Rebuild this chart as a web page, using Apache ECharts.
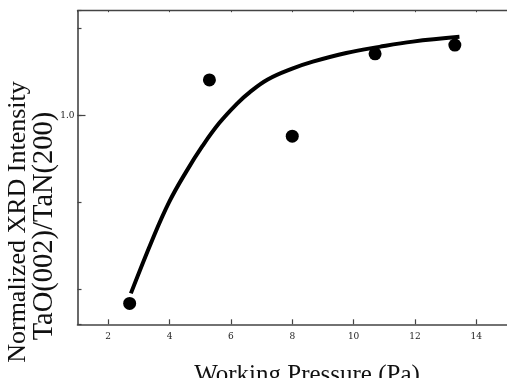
<!DOCTYPE html>
<html>
<head>
<meta charset="utf-8">
<script src="https://cdn.jsdelivr.net/npm/echarts@6/dist/echarts.min.js"></script>
<style>html,body{margin:0;padding:0;background:#fff;}#c{width:507px;height:378px;}</style>
</head>
<body>
<div id="c"></div>
<script>
// Measured points (Working pressure in Pa, normalized ratio)
const pressure = [2.7, 5.3, 8.0, 10.7, 13.3];
const ratio = [0.568, 1.081, 0.952, 1.141, 1.161];
// Fitted curve
const fitX = [2.74, 3.45, 3.99, 4.54, 5.08, 5.62, 6.22, 6.6, 7.2, 8.0, 8.67, 9.76, 10.84, 11.93, 13.45];
const fitY = [0.591, 0.716, 0.801, 0.870, 0.930, 0.982, 1.028, 1.052, 1.082, 1.107, 1.123, 1.143, 1.157, 1.169, 1.180];
const xTickLabels = ['2', '4', '6', '8', '10', '12', '14'];
const yLabelled = ['1.0'];

const axisColor = '#444';
const tickFont = { fontFamily: 'DejaVu Serif', fontSize: 9, color: '#222' };

const chart = echarts.init(document.getElementById('c'), null, { renderer: 'canvas' });
chart.setOption({
  animation: false,
  backgroundColor: '#fff',
  grid: { left: 77.5, right: 0, top: 10.7, bottom: 53.7, containLabel: false },
  xAxis: [{
    type: 'value', min: 1, max: 15, minInterval: 2, maxInterval: 2,
    axisLine: { show: true, lineStyle: { color: axisColor, width: 1.6 } },
    axisTick: { show: true, inside: true, length: 5, lineStyle: { color: axisColor, width: 1.2 } },
    axisLabel: Object.assign({ margin: 8, showMinLabel: false, showMaxLabel: false,
      formatter: v => xTickLabels.indexOf(String(v)) >= 0 ? String(v) : '' }, tickFont),
    splitLine: { show: false }
  }, {
    type: 'value', position: 'top', min: 1, max: 15, minInterval: 2, maxInterval: 2,
    axisLine: { show: true, lineStyle: { color: axisColor, width: 1.4 } },
    axisTick: { show: true, inside: true, length: 1.5, lineStyle: { color: axisColor, width: 1 } },
    axisLabel: { show: false }, splitLine: { show: false }
  }],
  yAxis: [{
    type: 'value', min: 0.52, max: 1.24, minInterval: 0.2, maxInterval: 0.2,
    axisLine: { show: true, lineStyle: { color: axisColor, width: 1.6 } },
    axisTick: { show: true, inside: true, length: 4, lineStyle: { color: axisColor, width: 1.2 } },
    axisLabel: { show: false }, splitLine: { show: false }
  }, {
    type: 'value', position: 'left', min: 0.52, max: 1.24, minInterval: 1, maxInterval: 1,
    axisLine: { show: false },
    axisTick: { show: true, inside: true, length: 8, lineStyle: { color: axisColor, width: 1.2 } },
    axisLabel: Object.assign({ margin: 3, showMinLabel: false, showMaxLabel: false,
      formatter: v => Math.abs(v - 1) < 1e-9 ? yLabelled[0] : '' }, tickFont),
    splitLine: { show: false }
  }],
  series: [{
    type: 'line', smooth: 0.4, showSymbol: false, symbol: 'none',
    data: fitX.map((x, i) => [x, fitY[i]]),
    lineStyle: { color: '#000', width: 4, cap: 'butt' }, z: 2
  }, {
    type: 'scatter', symbol: 'circle', symbolSize: 13,
    data: pressure.map((x, i) => [x, ratio[i]]),
    itemStyle: { color: '#000', opacity: 1 }, z: 3
  }],
  graphic: [{
    type: 'text', x: 307, y: 375,
    style: { text: 'Working Pressure (Pa)', font: '25px "Liberation Serif"', fill: '#111', align: 'center', verticalAlign: 'middle' }
  }, {
    type: 'text', x: 18.5, y: 222, rotation: Math.PI / 2,
    style: { text: 'Normalized XRD Intensity', font: '26px "Liberation Serif"', fill: '#111', align: 'center', verticalAlign: 'middle' }
  }, {
    type: 'text', x: 45, y: 226, rotation: Math.PI / 2,
    style: { text: 'TaO(002)/TaN(200)', font: '28.5px "Liberation Serif"', fill: '#111', align: 'center', verticalAlign: 'middle' }
  }]
});
</script>
</body>
</html>
